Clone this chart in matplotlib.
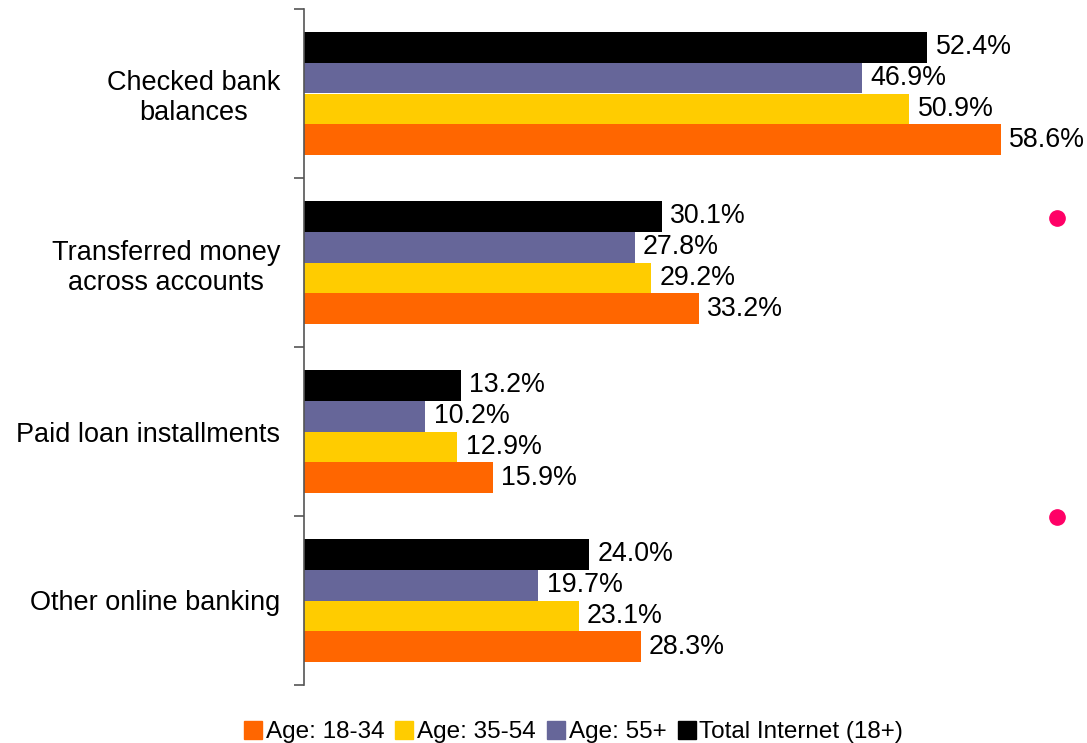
import matplotlib
matplotlib.use("Agg")
import matplotlib.pyplot as plt
import numpy as np
from matplotlib.lines import Line2D

plt.rcParams['font.family'] = ['Liberation Sans', 'DejaVu Sans']

categories = ["Checked bank\nbalances", "Transferred money\nacross accounts",
              "Paid loan installments", "Other online banking"]
series_names = ["Age: 18-34", "Age: 35-54", "Age: 55+", "Total Internet (18+)"]
age_18_34 = [58.6, 33.2, 15.9, 28.3]
age_35_54 = [50.9, 29.2, 12.9, 23.1]
age_55_plus = [46.9, 27.8, 10.2, 19.7]
total_internet = [52.4, 30.1, 13.2, 24.0]
colors = ["#FF6600", "#FFCC00", "#666699", "#000000"]

W, H = 1087, 743
fig = plt.figure(figsize=(W / 100, H / 100), dpi=100)
ax = fig.add_axes([304 / W, 1 - 685 / H, (1017.5 - 304) / W, (685 - 9) / H])

series = [age_18_34, age_35_54, age_55_plus, total_internet]
n = len(categories)
y = np.arange(n)
bh = 0.183
# orange at bottom of each group, black on top
offsets = [1.5 * bh, 0.5 * bh, -0.5 * bh, -1.5 * bh]
for vals, col, off, name in zip(series, colors, offsets, series_names):
    bars = ax.barh(y + off, vals, height=bh, color=col, label=name)
    for b, v in zip(bars, vals):
        ax.annotate(f"{v:.1f}%", (v, b.get_y() + b.get_height() / 2),
                    xytext=(6, 0), textcoords="offset points",
                    va="center", ha="left", fontsize=19.3)

ax.set_xlim(0, 60)
ax.set_ylim(n - 0.5, -0.5)
ax.set_xticks([])
ax.set_yticks(y)
ax.set_yticklabels(categories, fontsize=19.5, multialignment="center",
                   linespacing=1.2)
ax.tick_params(axis="y", which="major", length=0, pad=17)
ax.set_yticks(np.arange(n + 1) - 0.5, minor=True)
ax.tick_params(axis="y", which="minor", length=7, width=1.2, color="#555555")
for s in ["top", "right", "bottom"]:
    ax.spines[s].set_visible(False)
ax.spines["left"].set_color("#555555")
ax.spines["left"].set_linewidth(1.2)

handles = [Line2D([], [], marker="s", linestyle="none", markersize=12.5,
                  markerfacecolor=c, markeredgecolor=c) for c in colors]
fig.legend(handles, series_names, loc="center", bbox_to_anchor=(573.5 / W, 1 - 732 / H),
           ncol=4, frameon=False, fontsize=17.5, handletextpad=0.15,
           columnspacing=0.45, handlelength=0.75, borderpad=0.0)

# decorative markers on the right margin
fig.add_artist(Line2D([1057 / W], [1 - 218 / H], marker="o", markersize=11,
                      color="#FF0066", transform=fig.transFigure))
fig.add_artist(Line2D([1057 / W], [1 - 517 / H], marker="o", markersize=11,
                      color="#FF0066", transform=fig.transFigure))

fig.savefig("out.png", dpi=100, facecolor="white")
